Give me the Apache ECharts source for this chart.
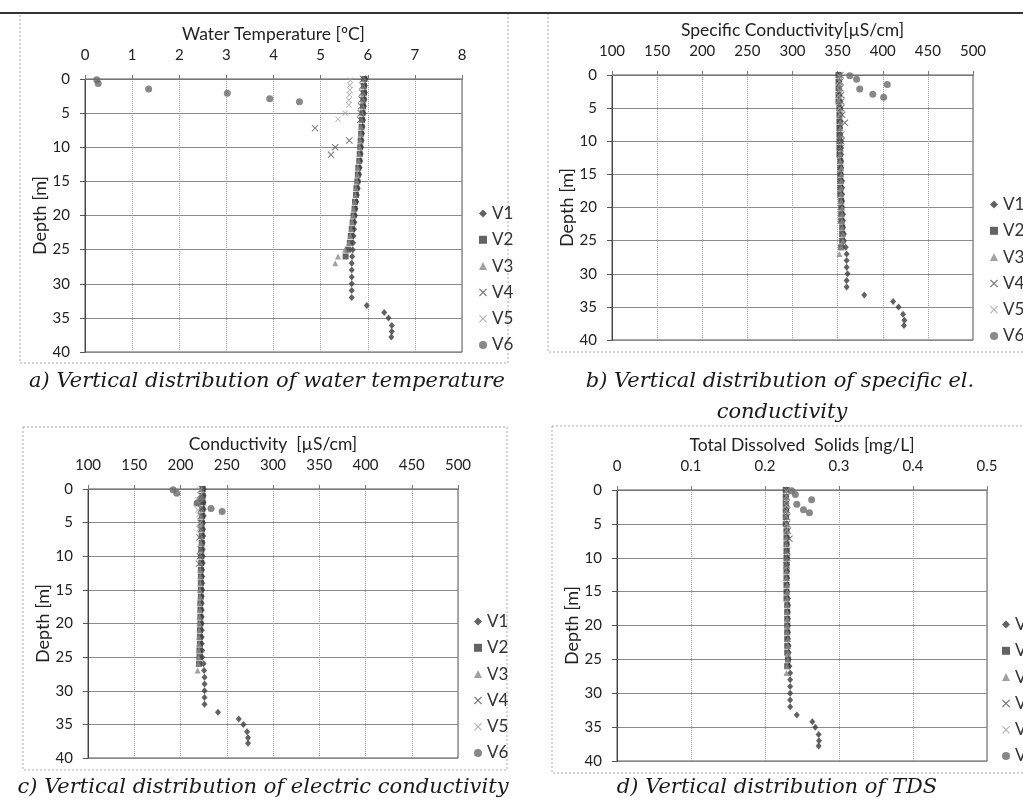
<!DOCTYPE html>
<html>
<head>
<meta charset="utf-8">
<script src="https://cdn.jsdelivr.net/npm/echarts@6/dist/echarts.min.js"></script>
<style>
  html, body { margin: 0; padding: 0; background: #fff; }
  #main { width: 1023px; height: 801px; }
</style>
</head>
<body>
<div id="main"></div>
<script>
// stations
const stations = ['V1', 'V2', 'V3', 'V4', 'V5', 'V6'];

// depths [m] of each measurement
const depthV1 = [0, 1, 2, 3, 4, 5, 6, 7, 8, 9, 10, 11, 12, 13, 14, 15, 16, 17, 18, 19, 20, 21, 22, 23, 24, 25, 26, 27, 28, 29, 30, 31, 32, 33.2, 34.2, 35, 36.1, 37, 37.8];
const depthV2 = [0, 1, 2, 3, 4, 5, 6, 7, 8, 9, 10, 11, 12, 13, 14, 15, 16, 17, 18, 19, 20, 21, 22, 23, 24, 25, 26];
const depthV3 = [0, 1, 2, 3, 4, 5, 6, 7, 8, 9, 10, 11, 12, 13, 14, 15, 16, 17, 18, 19, 20, 21, 22, 23, 24, 25, 26, 27];
const depthV4 = [0, 1, 2, 3, 4, 5, 6, 7.2, 9, 10, 11.1];
const depthV5 = [0.2, 0.9, 1.6, 2.3, 3.1, 3.8, 5.0, 5.9];
const depthV6 = [0.1, 0.65, 1.45, 2.1, 2.9, 3.35];

// a) water temperature [oC]
const tempV1 = [5.95, 5.94, 5.94, 5.93, 5.92, 5.91, 5.9, 5.89, 5.88, 5.87, 5.86, 5.85, 5.84, 5.83, 5.82, 5.8, 5.79, 5.77, 5.76, 5.74, 5.73, 5.72, 5.71, 5.7, 5.69, 5.68, 5.67, 5.66, 5.66, 5.66, 5.66, 5.66, 5.66, 5.98, 6.35, 6.44, 6.51, 6.51, 6.5];
const tempV2 = [5.93, 5.92, 5.92, 5.91, 5.9, 5.89, 5.88, 5.87, 5.86, 5.85, 5.84, 5.83, 5.82, 5.8, 5.79, 5.78, 5.76, 5.75, 5.73, 5.72, 5.7, 5.68, 5.66, 5.64, 5.62, 5.58, 5.53];
const tempV3 = [5.92, 5.91, 5.9, 5.9, 5.89, 5.88, 5.87, 5.86, 5.85, 5.84, 5.83, 5.82, 5.81, 5.79, 5.78, 5.77, 5.75, 5.74, 5.72, 5.7, 5.69, 5.67, 5.65, 5.63, 5.6, 5.52, 5.37, 5.31];
const tempV4 = [5.9, 5.89, 5.88, 5.87, 5.86, 5.85, 5.84, 4.88, 5.61, 5.31, 5.22];
const tempV5 = [5.63, 5.62, 5.62, 5.61, 5.6, 5.6, 5.52, 5.37];
const tempV6 = [0.25, 0.28, 1.35, 3.02, 3.92, 4.55];

// b) specific conductivity [uS/cm]
const spcV1 = [352, 352, 352, 352, 353, 353, 353, 353, 353, 353, 354, 354, 354, 354, 354, 354, 355, 355, 355, 355, 355, 356, 356, 356, 357, 357, 359, 360, 360, 360, 361, 360, 360, 379.5, 411.5, 417.5, 422.5, 424, 423.5];
const spcV2 = [351, 351, 351, 351, 351, 352, 352, 352, 352, 352, 352, 352, 352, 353, 353, 353, 353, 353, 353, 354, 354, 354, 354, 355, 355, 355, 354];
const spcV3 = [352, 352, 352, 352, 352, 352, 352, 353, 353, 353, 353, 353, 353, 353, 354, 354, 354, 354, 354, 354, 355, 355, 355, 355, 356, 356, 354, 352];
const spcV4 = [353, 353, 353, 354, 354, 354, 355, 358, 354, 354, 353];
const spcV5 = [352, 352, 352, 352, 351, 351, 352, 353];
const spcV6 = [363.5, 371, 405, 374.5, 389, 401];

// c) conductivity [uS/cm]
const condV1 = [225, 225, 225, 225, 225, 224.5, 224.5, 224.5, 224, 224, 224, 224, 223.5, 223.5, 223.5, 223.5, 223, 223, 223, 223, 223, 223, 223, 223, 223.5, 223.5, 225, 225.5, 226, 226, 226, 226, 226, 240.5, 263, 268, 272, 273, 273];
const condV2 = [224, 224, 224, 223.5, 223.5, 223, 223, 223, 223, 222.5, 222.5, 222.5, 222, 222, 222, 222, 222, 221.5, 221.5, 221.5, 221.5, 221, 221, 221, 220.5, 220.5, 220];
const condV3 = [223, 223, 217, 223, 222.5, 222.5, 222.5, 222, 222, 222, 222, 221.5, 221.5, 221.5, 221.5, 221, 221, 221, 221, 220.5, 220.5, 220.5, 220, 220, 220, 219.5, 219, 218.5];
const condV4 = [223, 223, 222.5, 222.5, 222, 222, 222, 220.5, 222, 221, 220];
const condV5 = [221, 221, 219, 218, 219, 220, 221, 220];
const condV6 = [192, 196, 222, 218, 233, 245];

// d) total dissolved solids [mg/L]
const tdsV1 = [0.229, 0.229, 0.229, 0.229, 0.229, 0.229, 0.229, 0.23, 0.23, 0.23, 0.23, 0.23, 0.23, 0.23, 0.23, 0.23, 0.231, 0.231, 0.231, 0.231, 0.231, 0.231, 0.231, 0.232, 0.232, 0.232, 0.233, 0.234, 0.234, 0.234, 0.234, 0.234, 0.234, 0.243, 0.264, 0.268, 0.2725, 0.273, 0.2725];
const tdsV2 = [0.228, 0.228, 0.228, 0.228, 0.228, 0.228, 0.229, 0.229, 0.229, 0.229, 0.229, 0.229, 0.229, 0.229, 0.229, 0.229, 0.229, 0.23, 0.23, 0.23, 0.23, 0.23, 0.23, 0.23, 0.23, 0.231, 0.23];
const tdsV3 = [0.229, 0.229, 0.229, 0.229, 0.229, 0.229, 0.229, 0.229, 0.229, 0.229, 0.229, 0.229, 0.229, 0.229, 0.23, 0.23, 0.23, 0.23, 0.23, 0.23, 0.23, 0.23, 0.231, 0.231, 0.231, 0.231, 0.23, 0.229];
const tdsV4 = [0.229, 0.229, 0.229, 0.23, 0.23, 0.23, 0.231, 0.233, 0.23, 0.23, 0.229];
const tdsV5 = [0.229, 0.229, 0.229, 0.229, 0.228, 0.228, 0.229, 0.229];
const tdsV6 = [0.236, 0.241, 0.263, 0.243, 0.252, 0.26];

const depths = [depthV1, depthV2, depthV3, depthV4, depthV5, depthV6];

const chartFont = 'Lato';
const capFont = 'italic 21px "DejaVu Serif"';
const crossPath = 'path://M0,1L1,0L5,4L9,0L10,1L6,5L10,9L9,10L5,6L1,10L0,9L4,5Z';

// marker of every station
const markers = [
  { symbol: 'diamond', size: [6, 7], color: '#3a3a3a' },
  { symbol: 'rect', size: 6, color: '#3c3c3c' },
  { symbol: 'triangle', size: 6, color: '#8a8a8a' },
  { symbol: crossPath, size: 7, color: '#555' },
  { symbol: crossPath, size: 6, color: '#a0a0a0' },
  { symbol: 'circle', size: 7, color: '#6a6a6a' }
];

// four panels
const panels = [
  { left: 85, top: 79, width: 377, height: 273, min: 0, max: 8, interval: 1, name: 'Water Temperature [ºC]',
    legendLeft: 474, legendTop: 200, values: [tempV1, tempV2, tempV3, tempV4, tempV5, tempV6] },
  { left: 612, top: 75, width: 361, height: 265, min: 100, max: 500, interval: 50, name: 'Specific Conductivity[µS/cm]',
    legendLeft: 985, legendTop: 191, values: [spcV1, spcV2, spcV3, spcV4, spcV5, spcV6] },
  { left: 88, top: 489, width: 370, height: 269, min: 100, max: 500, interval: 50, name: 'Conductivity  [µS/cm]',
    legendLeft: 469, legendTop: 608, values: [condV1, condV2, condV3, condV4, condV5, condV6] },
  { left: 617, top: 490, width: 370, height: 271, min: 0, max: 0.5, interval: 0.1, name: 'Total Dissolved  Solids [mg/L]',
    legendLeft: 997, legendTop: 611, values: [tdsV1, tdsV2, tdsV3, tdsV4, tdsV5, tdsV6] }
];

const grids = [], xAxes = [], yAxes = [], legends = [], series = [];

panels.forEach(function (p, gi) {
  grids.push({
    left: p.left, top: p.top, width: p.width, height: p.height,
    show: true, borderColor: '#555', borderWidth: 1, backgroundColor: 'transparent'
  });
  xAxes.push({
    gridIndex: gi, type: 'value', position: 'top',
    min: p.min, max: p.max, interval: p.interval,
    name: p.name, nameLocation: 'middle', nameGap: 36,
    nameTextStyle: { fontFamily: chartFont, fontSize: 17.5, color: '#222' },
    axisLine: { show: true, onZero: false, lineStyle: { color: '#777' } },
    axisTick: { show: true, length: 4, lineStyle: { color: '#777' } },
    axisLabel: { fontFamily: chartFont, fontSize: 15, color: '#222', margin: 16 },
    splitLine: { show: true, lineStyle: { color: '#9a9a9a', type: 'dotted' } }
  });
  yAxes.push({
    gridIndex: gi, type: 'value', inverse: true,
    min: 0, max: 40, interval: 5,
    name: 'Depth [m]', nameLocation: 'middle', nameGap: 36,
    nameTextStyle: { fontFamily: chartFont, fontSize: 18, color: '#222' },
    axisLine: { show: true, onZero: false, lineStyle: { color: '#444' } },
    axisTick: { show: true, length: 5, lineStyle: { color: '#555' } },
    axisLabel: { fontFamily: chartFont, fontSize: 15, color: '#222', margin: 15 },
    splitLine: { show: true, lineStyle: { color: '#8a8a8a' } }
  });
  legends.push({
    orient: 'vertical', left: p.legendLeft, top: p.legendTop,
    itemWidth: 8, itemHeight: 8, itemGap: 9.3,
    textStyle: { fontFamily: chartFont, fontSize: 17, color: '#333', lineHeight: 15 },
    data: stations
  });
  stations.forEach(function (name, si) {
    const m = markers[si];
    series.push({
      name: name, type: 'scatter',
      xAxisIndex: gi, yAxisIndex: gi,
      symbol: m.symbol, symbolSize: m.size,
      itemStyle: { color: m.color },
      data: p.values[si].map(function (v, k) { return [v, depths[si][k]]; })
    });
  });
});

// page frame, panel boxes and captions
function frame(x, y, w, h) {
  return { type: 'rect', shape: { x: x, y: y, width: w, height: h },
    style: { fill: 'none', stroke: '#aaa', lineWidth: 1, lineDash: [2, 2] }, silent: true };
}
function caption(x, y, txt) {
  return { type: 'text', x: x, y: y,
    style: { text: txt, font: capFont, fill: '#1a1a1a', textAlign: 'center', align: 'center', textVerticalAlign: 'middle', verticalAlign: 'middle' } };
}

const option = {
  backgroundColor: '#fff',
  animation: false,
  grid: grids,
  xAxis: xAxes,
  yAxis: yAxes,
  legend: legends,
  series: series,
  graphic: [
    frame(20, 13, 488, 350),
    frame(548, 13, 480, 339),
    frame(23, 427, 484, 343),
    frame(552, 426, 480, 347),
    { type: 'line', shape: { x1: 0, y1: 13, x2: 1023, y2: 13 }, style: { stroke: '#333', lineWidth: 2 } },
    caption(267, 382, 'a) Vertical distribution of water temperature'),
    caption(780, 382, 'b) Vertical distribution of specific el.'),
    caption(782, 413, 'conductivity'),
    caption(263, 788, 'c) Vertical distribution of electric conductivity'),
    caption(777, 788, 'd) Vertical distribution of TDS')
  ]
};

const chart = echarts.init(document.getElementById('main'));
chart.setOption(option);
</script>
</body>
</html>
